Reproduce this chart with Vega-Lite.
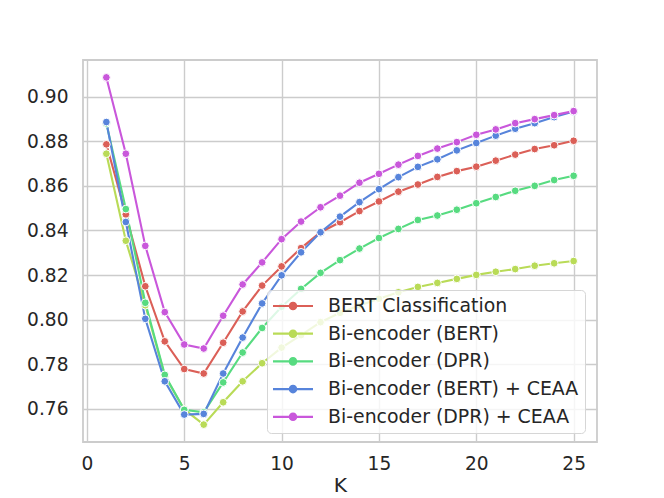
{
  "$schema": "https://vega.github.io/schema/vega-lite/v6.json",
  "width": 514,
  "height": 382,
  "autosize": {"type": "none"},
  "padding": {"left": 83, "top": 60, "right": 67, "bottom": 56},
  "background": "white",
  "data": {
    "values": [
      {"K": 1, "model": "BERT Classification", "acc": 0.8786},
      {"K": 2, "model": "BERT Classification", "acc": 0.8472},
      {"K": 3, "model": "BERT Classification", "acc": 0.8150},
      {"K": 4, "model": "BERT Classification", "acc": 0.7903},
      {"K": 5, "model": "BERT Classification", "acc": 0.7779},
      {"K": 6, "model": "BERT Classification", "acc": 0.7759},
      {"K": 7, "model": "BERT Classification", "acc": 0.7897},
      {"K": 8, "model": "BERT Classification", "acc": 0.8037},
      {"K": 9, "model": "BERT Classification", "acc": 0.8153},
      {"K": 10, "model": "BERT Classification", "acc": 0.8239},
      {"K": 11, "model": "BERT Classification", "acc": 0.8321},
      {"K": 12, "model": "BERT Classification", "acc": 0.8392},
      {"K": 13, "model": "BERT Classification", "acc": 0.8437},
      {"K": 14, "model": "BERT Classification", "acc": 0.8487},
      {"K": 15, "model": "BERT Classification", "acc": 0.8530},
      {"K": 16, "model": "BERT Classification", "acc": 0.8574},
      {"K": 17, "model": "BERT Classification", "acc": 0.8606},
      {"K": 18, "model": "BERT Classification", "acc": 0.8640},
      {"K": 19, "model": "BERT Classification", "acc": 0.8666},
      {"K": 20, "model": "BERT Classification", "acc": 0.8686},
      {"K": 21, "model": "BERT Classification", "acc": 0.8713},
      {"K": 22, "model": "BERT Classification", "acc": 0.8740},
      {"K": 23, "model": "BERT Classification", "acc": 0.8765},
      {"K": 24, "model": "BERT Classification", "acc": 0.8782},
      {"K": 25, "model": "BERT Classification", "acc": 0.8802},
      {"K": 1, "model": "Bi-encoder (BERT)", "acc": 0.8744},
      {"K": 2, "model": "Bi-encoder (BERT)", "acc": 0.8354},
      {"K": 3, "model": "Bi-encoder (BERT)", "acc": 0.8065},
      {"K": 4, "model": "Bi-encoder (BERT)", "acc": 0.7749},
      {"K": 5, "model": "Bi-encoder (BERT)", "acc": 0.7598},
      {"K": 6, "model": "Bi-encoder (BERT)", "acc": 0.7530},
      {"K": 7, "model": "Bi-encoder (BERT)", "acc": 0.7630},
      {"K": 8, "model": "Bi-encoder (BERT)", "acc": 0.7724},
      {"K": 9, "model": "Bi-encoder (BERT)", "acc": 0.7805},
      {"K": 10, "model": "Bi-encoder (BERT)", "acc": 0.7875},
      {"K": 11, "model": "Bi-encoder (BERT)", "acc": 0.7931},
      {"K": 12, "model": "Bi-encoder (BERT)", "acc": 0.7989},
      {"K": 13, "model": "Bi-encoder (BERT)", "acc": 0.8031},
      {"K": 14, "model": "Bi-encoder (BERT)", "acc": 0.8064},
      {"K": 15, "model": "Bi-encoder (BERT)", "acc": 0.8094},
      {"K": 16, "model": "Bi-encoder (BERT)", "acc": 0.8123},
      {"K": 17, "model": "Bi-encoder (BERT)", "acc": 0.8147},
      {"K": 18, "model": "Bi-encoder (BERT)", "acc": 0.8165},
      {"K": 19, "model": "Bi-encoder (BERT)", "acc": 0.8183},
      {"K": 20, "model": "Bi-encoder (BERT)", "acc": 0.8201},
      {"K": 21, "model": "Bi-encoder (BERT)", "acc": 0.8215},
      {"K": 22, "model": "Bi-encoder (BERT)", "acc": 0.8227},
      {"K": 23, "model": "Bi-encoder (BERT)", "acc": 0.8242},
      {"K": 24, "model": "Bi-encoder (BERT)", "acc": 0.8253},
      {"K": 25, "model": "Bi-encoder (BERT)", "acc": 0.8263},
      {"K": 1, "model": "Bi-encoder (DPR)", "acc": 0.8880},
      {"K": 2, "model": "Bi-encoder (DPR)", "acc": 0.8496},
      {"K": 3, "model": "Bi-encoder (DPR)", "acc": 0.8076},
      {"K": 4, "model": "Bi-encoder (DPR)", "acc": 0.7753},
      {"K": 5, "model": "Bi-encoder (DPR)", "acc": 0.7596},
      {"K": 6, "model": "Bi-encoder (DPR)", "acc": 0.7585},
      {"K": 7, "model": "Bi-encoder (DPR)", "acc": 0.7719},
      {"K": 8, "model": "Bi-encoder (DPR)", "acc": 0.7853},
      {"K": 9, "model": "Bi-encoder (DPR)", "acc": 0.7963},
      {"K": 10, "model": "Bi-encoder (DPR)", "acc": 0.8058},
      {"K": 11, "model": "Bi-encoder (DPR)", "acc": 0.8138},
      {"K": 12, "model": "Bi-encoder (DPR)", "acc": 0.8210},
      {"K": 13, "model": "Bi-encoder (DPR)", "acc": 0.8267},
      {"K": 14, "model": "Bi-encoder (DPR)", "acc": 0.8319},
      {"K": 15, "model": "Bi-encoder (DPR)", "acc": 0.8366},
      {"K": 16, "model": "Bi-encoder (DPR)", "acc": 0.8407},
      {"K": 17, "model": "Bi-encoder (DPR)", "acc": 0.8447},
      {"K": 18, "model": "Bi-encoder (DPR)", "acc": 0.8467},
      {"K": 19, "model": "Bi-encoder (DPR)", "acc": 0.8493},
      {"K": 20, "model": "Bi-encoder (DPR)", "acc": 0.8522},
      {"K": 21, "model": "Bi-encoder (DPR)", "acc": 0.8550},
      {"K": 22, "model": "Bi-encoder (DPR)", "acc": 0.8578},
      {"K": 23, "model": "Bi-encoder (DPR)", "acc": 0.8600},
      {"K": 24, "model": "Bi-encoder (DPR)", "acc": 0.8626},
      {"K": 25, "model": "Bi-encoder (DPR)", "acc": 0.8645},
      {"K": 1, "model": "Bi-encoder (BERT) + CEAA", "acc": 0.8886},
      {"K": 2, "model": "Bi-encoder (BERT) + CEAA", "acc": 0.8438},
      {"K": 3, "model": "Bi-encoder (BERT) + CEAA", "acc": 0.8004},
      {"K": 4, "model": "Bi-encoder (BERT) + CEAA", "acc": 0.7724},
      {"K": 5, "model": "Bi-encoder (BERT) + CEAA", "acc": 0.7575},
      {"K": 6, "model": "Bi-encoder (BERT) + CEAA", "acc": 0.7578},
      {"K": 7, "model": "Bi-encoder (BERT) + CEAA", "acc": 0.7759},
      {"K": 8, "model": "Bi-encoder (BERT) + CEAA", "acc": 0.7920},
      {"K": 9, "model": "Bi-encoder (BERT) + CEAA", "acc": 0.8073},
      {"K": 10, "model": "Bi-encoder (BERT) + CEAA", "acc": 0.8199},
      {"K": 11, "model": "Bi-encoder (BERT) + CEAA", "acc": 0.8302},
      {"K": 12, "model": "Bi-encoder (BERT) + CEAA", "acc": 0.8392},
      {"K": 13, "model": "Bi-encoder (BERT) + CEAA", "acc": 0.8462},
      {"K": 14, "model": "Bi-encoder (BERT) + CEAA", "acc": 0.8527},
      {"K": 15, "model": "Bi-encoder (BERT) + CEAA", "acc": 0.8585},
      {"K": 16, "model": "Bi-encoder (BERT) + CEAA", "acc": 0.8639},
      {"K": 17, "model": "Bi-encoder (BERT) + CEAA", "acc": 0.8685},
      {"K": 18, "model": "Bi-encoder (BERT) + CEAA", "acc": 0.8719},
      {"K": 19, "model": "Bi-encoder (BERT) + CEAA", "acc": 0.8759},
      {"K": 20, "model": "Bi-encoder (BERT) + CEAA", "acc": 0.8792},
      {"K": 21, "model": "Bi-encoder (BERT) + CEAA", "acc": 0.8825},
      {"K": 22, "model": "Bi-encoder (BERT) + CEAA", "acc": 0.8856},
      {"K": 23, "model": "Bi-encoder (BERT) + CEAA", "acc": 0.8881},
      {"K": 24, "model": "Bi-encoder (BERT) + CEAA", "acc": 0.8908},
      {"K": 25, "model": "Bi-encoder (BERT) + CEAA", "acc": 0.8933},
      {"K": 1, "model": "Bi-encoder (DPR) + CEAA", "acc": 0.9086},
      {"K": 2, "model": "Bi-encoder (DPR) + CEAA", "acc": 0.8744},
      {"K": 3, "model": "Bi-encoder (DPR) + CEAA", "acc": 0.8331},
      {"K": 4, "model": "Bi-encoder (DPR) + CEAA", "acc": 0.8034},
      {"K": 5, "model": "Bi-encoder (DPR) + CEAA", "acc": 0.7889},
      {"K": 6, "model": "Bi-encoder (DPR) + CEAA", "acc": 0.7871},
      {"K": 7, "model": "Bi-encoder (DPR) + CEAA", "acc": 0.8018},
      {"K": 8, "model": "Bi-encoder (DPR) + CEAA", "acc": 0.8158},
      {"K": 9, "model": "Bi-encoder (DPR) + CEAA", "acc": 0.8257},
      {"K": 10, "model": "Bi-encoder (DPR) + CEAA", "acc": 0.8361},
      {"K": 11, "model": "Bi-encoder (DPR) + CEAA", "acc": 0.8440},
      {"K": 12, "model": "Bi-encoder (DPR) + CEAA", "acc": 0.8504},
      {"K": 13, "model": "Bi-encoder (DPR) + CEAA", "acc": 0.8556},
      {"K": 14, "model": "Bi-encoder (DPR) + CEAA", "acc": 0.8614},
      {"K": 15, "model": "Bi-encoder (DPR) + CEAA", "acc": 0.8654},
      {"K": 16, "model": "Bi-encoder (DPR) + CEAA", "acc": 0.8695},
      {"K": 17, "model": "Bi-encoder (DPR) + CEAA", "acc": 0.8734},
      {"K": 18, "model": "Bi-encoder (DPR) + CEAA", "acc": 0.8767},
      {"K": 19, "model": "Bi-encoder (DPR) + CEAA", "acc": 0.8796},
      {"K": 20, "model": "Bi-encoder (DPR) + CEAA", "acc": 0.8829},
      {"K": 21, "model": "Bi-encoder (DPR) + CEAA", "acc": 0.8853},
      {"K": 22, "model": "Bi-encoder (DPR) + CEAA", "acc": 0.8881},
      {"K": 23, "model": "Bi-encoder (DPR) + CEAA", "acc": 0.8899},
      {"K": 24, "model": "Bi-encoder (DPR) + CEAA", "acc": 0.8917},
      {"K": 25, "model": "Bi-encoder (DPR) + CEAA", "acc": 0.8935}
    ]
  },
  "encoding": {
    "x": {
      "field": "K",
      "type": "quantitative",
      "scale": {"domain": [-0.2, 26.2], "nice": false, "zero": false},
      "axis": {"title": "K", "values": [0, 5, 10, 15, 20, 25], "labelPadding": 12, "titlePadding": 3}
    },
    "y": {
      "field": "acc",
      "type": "quantitative",
      "scale": {"domain": [0.7452, 0.9164], "nice": false, "zero": false},
      "axis": {"title": null, "values": [0.76, 0.78, 0.8, 0.82, 0.84, 0.86, 0.88, 0.9], "format": ".2f", "labelPadding": 15}
    },
    "color": {
      "field": "model",
      "type": "nominal",
      "scale": {
        "domain": ["BERT Classification", "Bi-encoder (BERT)", "Bi-encoder (DPR)", "Bi-encoder (BERT) + CEAA", "Bi-encoder (DPR) + CEAA"],
        "range": ["#db5f57", "#b9db57", "#57db80", "#5784db", "#c957db"]
      },
      "legend": {
        "title": null,
        "orient": "none",
        "legendX": 184,
        "legendY": 230,
        "symbolType": "M-2,-0.11H2V0.11H-2Z M-0.43,0A0.43,0.43 0 1,1 0.43,0A0.43,0.43 0 1,1 -0.43,0Z",
        "symbolSize": 400,
        "symbolOffset": 10,
        "symbolStrokeWidth": 0,
        "symbolOpacity": 1,
        "labelOffset": 25,
        "rowPadding": 7.7,
        "padding": 6,
        "fillColor": "rgba(255,255,255,0.8)",
        "strokeColor": "#d6d6d6",
        "cornerRadius": 4
      }
    }
  },
  "layer": [
    {"mark": {"type": "line", "strokeWidth": 2.1}},
    {"mark": {"type": "point", "filled": true, "size": 60, "stroke": "white", "strokeWidth": 1, "opacity": 1}}
  ],
  "config": {
    "font": "DejaVu Sans",
    "view": {"stroke": "#cccccc", "strokeWidth": 1.8},
    "axis": {
      "labelFont": "DejaVu Sans",
      "labelFontSize": 18.6,
      "labelColor": "#262626",
      "titleFont": "DejaVu Sans",
      "titleFontSize": 20.3,
      "titleFontWeight": "normal",
      "titleColor": "#262626",
      "ticks": false,
      "domain": false,
      "gridColor": "#cccccc",
      "gridWidth": 1.4
    },
    "legend": {
      "labelFont": "DejaVu Sans",
      "labelFontSize": 18.9,
      "labelColor": "#262626",
      "labelLimit": 400
    }
  }
}
